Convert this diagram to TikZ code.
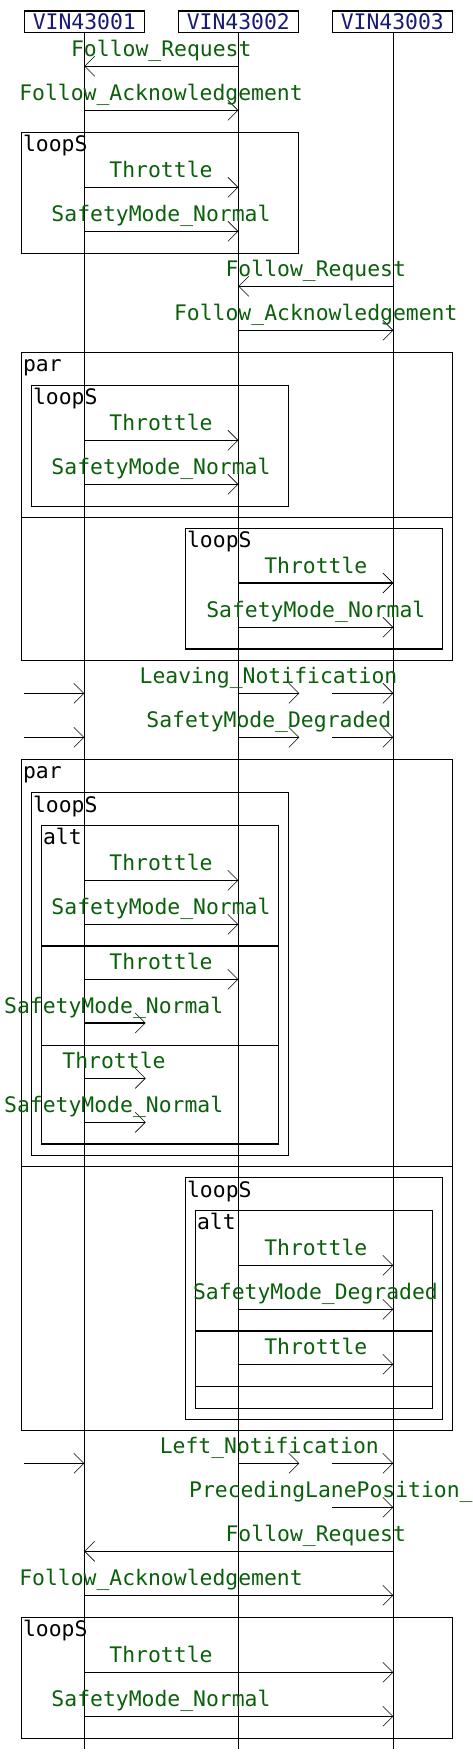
\documentclass[tikz,border=0pt]{standalone}
\usepackage{fontspec}
\newfontfamily\seqfont{DejaVu Sans Mono}
\usetikzlibrary{arrows.meta}
\definecolor{hdrblue}{RGB}{25,25,120}
\definecolor{msggreen}{RGB}{10,95,10}
\newcommand\msgline[6]{%
  \coordinate (#1s) at (#3,#2);
  \coordinate (#1e) at (#4,#2);
  \draw[msg] (#1s) -- (#1e);
  \node[lbl] (#1l) at (#6,#2-9.7) {#5};}
\newcommand\fragbox[6]{%
  \node[fragbox, minimum width=#4-#2, minimum height=#5-#3] (#1) at ({(#2+#4)/2},{(#3+#5)/2}) {};
  \node[fraglbl] (#1t) at (#2+1.6,#3+19.4) {#6};}
\begin{document}
\begin{tikzpicture}[x=1pt,y=-1pt,
  every node/.style={font=\seqfont\fontsize{21.4}{21.4}\selectfont},
  msg/.style={line width=1.1pt,-{Straight Barb[length=10pt,width=20pt,line width=0.6pt]}},
  lbl/.style={anchor=base,inner sep=0pt,text=msggreen},
  fragbox/.style={draw,line width=1.1pt,inner sep=0pt,outer sep=0pt},
  fraglbl/.style={anchor=base west,inner sep=0pt,text=black},
  hdr/.style={draw,line width=1.1pt,minimum width=120pt,minimum height=21.3pt,inner sep=0pt,text=hdrblue},
  life/.style={line width=1.1pt},
  sep/.style={line width=1.1pt}]
\useasboundingbox (0,0) rectangle (473,1760);
% headers
\node[hdr] (p1) at (84.3,21.65) {VIN43001};
\node[hdr] (p2) at (238.3,21.65) {VIN43002};
\node[hdr] (p3) at (392.3,21.65) {VIN43003};
\coordinate (e1) at (84.3,1749.3);
\coordinate (e2) at (238.3,1749.3);
\coordinate (e3) at (393.3,1749.3);
\draw[life] (p1.south) -- (e1);
\draw[life] (p2.south) -- (e2);
\draw[life] (p3.south-|e3) -- (e3);
% messages before first par
\msgline{m1}{66.3}{238.3}{84.3}{Follow\_Request}{161.3}
\msgline{m2}{110.3}{84.3}{238.3}{Follow\_Acknowledgement}{161}
\fragbox{fa}{21.3}{132.3}{298.3}{253.3}{loopS}
\msgline{m3}{187.3}{84.3}{238.3}{Throttle}{161}
\msgline{m4}{231.3}{84.3}{238.3}{SafetyMode\_Normal}{161}
\msgline{m5}{286.3}{393.3}{238.3}{Follow\_Request}{315.8}
\msgline{m6}{330.3}{238.3}{393.3}{Follow\_Acknowledgement}{315.8}
% par 1
\fragbox{fb}{21.3}{352.3}{452.3}{660.3}{par}
\draw[sep] (21.3,517.3) -- (452.3,517.3);
\fragbox{fc}{31.3}{385.3}{288.3}{506.3}{loopS}
\msgline{m7}{440.3}{84.3}{238.3}{Throttle}{161}
\msgline{m8}{484.3}{84.3}{238.3}{SafetyMode\_Normal}{161}
\fragbox{fd}{185.3}{528.3}{442.3}{649}{loopS}
\msgline{m9}{583}{238.3}{393.3}{Throttle}{315.8}
\msgline{m10}{627.3}{238.3}{393.3}{SafetyMode\_Normal}{315.8}
% broadcasts
\msgline{m11a}{693.3}{24}{84.3}{}{54}
\msgline{m11b}{693.3}{238.3}{299.3}{}{268}
\msgline{m11c}{693.3}{332.3}{393.3}{Leaving\_Notification}{268.5}
\msgline{m12a}{737.3}{24}{84.3}{}{54}
\msgline{m12b}{737.3}{238.3}{299.3}{}{268}
\msgline{m12c}{737.3}{332.3}{393.3}{SafetyMode\_Degraded}{268.8}
% par 2
\fragbox{fe}{21.3}{759.3}{452.3}{1430.3}{par}
\draw[sep] (21.3,1166.3) -- (452.3,1166.3);
\fragbox{ff}{31.3}{792.7}{288.3}{1155.3}{loopS}
\fragbox{fg}{41.3}{825.3}{278.3}{1144}{alt}
\draw[sep] (41.3,946) -- (278.3,946);
\draw[sep] (41.3,1045.3) -- (278.3,1045.3);
\msgline{m13}{880.3}{84.3}{238.3}{Throttle}{161}
\msgline{m14}{924.3}{84.3}{238.3}{SafetyMode\_Normal}{161}
\msgline{m15}{979.3}{84.3}{238.3}{Throttle}{161}
\msgline{m16}{1023}{84.3}{145.7}{SafetyMode\_Normal}{113.7}
\msgline{m17}{1078.3}{84.3}{145.7}{Throttle}{114}
\msgline{m18}{1122.3}{84.3}{145.7}{SafetyMode\_Normal}{113.7}
\fragbox{fh}{185.3}{1177.7}{442.3}{1419.3}{loopS}
\fragbox{fi}{195.3}{1210.3}{432.3}{1408.3}{alt}
\draw[sep] (195.3,1331) -- (432.3,1331);
\draw[sep] (195.3,1386.3) -- (432.3,1386.3);
\msgline{m19}{1265.3}{238.3}{393.3}{Throttle}{315.8}
\msgline{m20}{1309.3}{238.3}{393.3}{SafetyMode\_Degraded}{315.5}
\msgline{m21}{1364.3}{238.3}{393.3}{Throttle}{315.8}
% after
\msgline{m22a}{1463.3}{24}{84.3}{}{54}
\msgline{m22b}{1463.3}{238.3}{299.3}{}{268}
\msgline{m22c}{1463.3}{332.3}{393.3}{Left\_Notification}{269.3}
\coordinate (m23s) at (332.3,1507.3);
\coordinate (m23e) at (393.3,1507.3);
\draw[msg] (m23s) -- (m23e);
\node[lbl,anchor=base west] (m23l) at (189,1497.6) {PrecedingLanePosition\_};
\msgline{m24}{1551.3}{393.3}{84.3}{Follow\_Request}{315.8}
\msgline{m25}{1595.3}{84.3}{393.3}{Follow\_Acknowledgement}{161}
\fragbox{fj}{21.3}{1617.3}{452.3}{1738.3}{loopS}
\msgline{m26}{1672.3}{84.3}{393.3}{Throttle}{161}
\msgline{m27}{1716.3}{84.3}{393.3}{SafetyMode\_Normal}{161}
\end{tikzpicture}
\end{document}
